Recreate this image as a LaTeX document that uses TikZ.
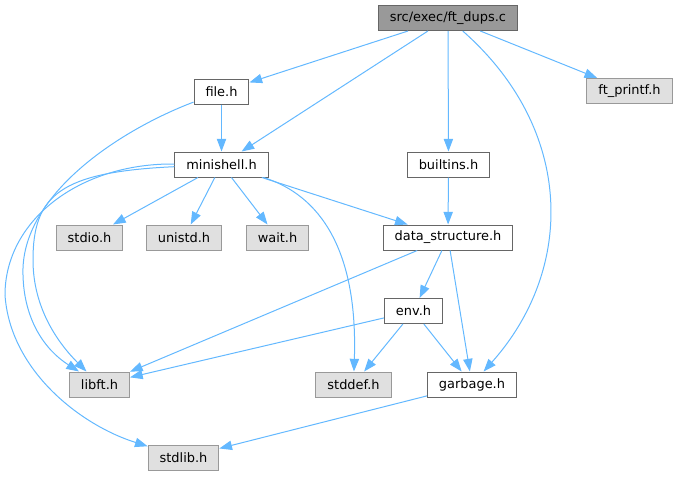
\documentclass[tikz,border=0pt]{standalone}
\usepackage{fontspec}
\setmainfont{DejaVu Sans}
\usetikzlibrary{arrows.meta}
\definecolor{edgeblue}{HTML}{63B8FF}
\definecolor{boxline}{HTML}{666666}
\definecolor{sysline}{HTML}{999999}
\definecolor{sysfill}{HTML}{E0E0E0}
\definecolor{rootfill}{HTML}{999999}

\begin{document}
\begin{tikzpicture}[x=0.75pt, y=-0.75pt,
		hdr/.style={draw=boxline, fill=white, line width=0.75pt, minimum height=18.75pt, inner xsep=8.6pt, inner ysep=0pt, font=\fontsize{9.7}{11}\selectfont},
		syshdr/.style={hdr, draw=sysline, fill=sysfill},
		roothdr/.style={hdr, fill=rootfill},
		dep/.style={color=edgeblue, line width=0.75pt, -{Triangle[length=9.5pt, width=7pt]}}]
		\useasboundingbox (0,0) rectangle (677,476);
		
		\node[roothdr] (dups) at (448,18) {src/exec/ft\_dups.c};
		\node[syshdr] (printf) at (629.5,91) {ft\_printf.h};
		\node[hdr] (file) at (221.5,91.5) {file.h};
		\node[hdr] (mini) at (221.5,164.5) {minishell.h};
		\node[hdr] (builtins) at (448.5,164.5) {builtins.h};
		\node[syshdr] (stdio) at (89.5,237.5) {stdio.h};
		\node[syshdr] (unistd) at (184,237.5) {unistd.h};
		\node[syshdr] (wait) at (277.5,237.5) {wait.h};
		\node[hdr] (ds) at (448,237.5) {data\_structure.h};
		\node[hdr] (env) at (413.5,311) {env.h};
		\node[syshdr] (libft) at (99.5,384.5) {libft.h};
		\node[syshdr] (stddef) at (353.5,384.5) {stddef.h};
		\node[hdr] (garbage) at (472,384.5) {garbage.h};
		\node[syshdr] (stdlib) at (183.5,457.5) {stdlib.h};
		
		\draw[dep] (dups) edge[] (file) ;
		\draw[dep] (dups) edge[] (mini) ;
		\draw[dep] (dups) edge[] (builtins) ;
		\draw[dep] (dups) edge[] (printf) ;
		\draw[dep] (dups) .. controls (575,130) and (575,269) .. (garbage) ;
		
		\draw[dep] (file) edge[] (mini) ;
		\draw[dep] (file) .. controls (120,130) and (20,195) .. (23,275) .. controls (24,320) and (45,350) .. (libft) ;
		
		\draw[dep] (mini) edge[] (stdio) ;
		\draw[dep] (mini) edge[] (unistd) ;
		\draw[dep] (mini) edge[] (wait) ;
		\draw[dep] (mini) edge[] (ds) ;
		\draw[dep] (mini) .. controls (320,195) and (358,250) .. (stddef) ;
		\draw[dep] (mini) .. controls (60,172) and (33,195) .. (33,260) .. controls (33,310) and (60,345) .. (libft) ;
		\draw[dep] (mini) .. controls (80,163) and (5,220) .. (5,295) .. controls (10,370) and (80,425) .. (stdlib) ;
		
		\draw[dep] (builtins) edge[] (ds) ;
		
		\draw[dep] (ds) edge[] (libft) ;
		\draw[dep] (ds) edge[] (env) ;
		\draw[dep] (ds) edge[] (garbage) ;
		
		\draw[dep] (env) edge[] (libft) ;
		\draw[dep] (env) edge[] (stddef) ;
		\draw[dep] (env) edge[] (garbage) ;
		
		\draw[dep] (garbage) edge[] (stdlib) ;
		
\end{tikzpicture}
\end{document}
